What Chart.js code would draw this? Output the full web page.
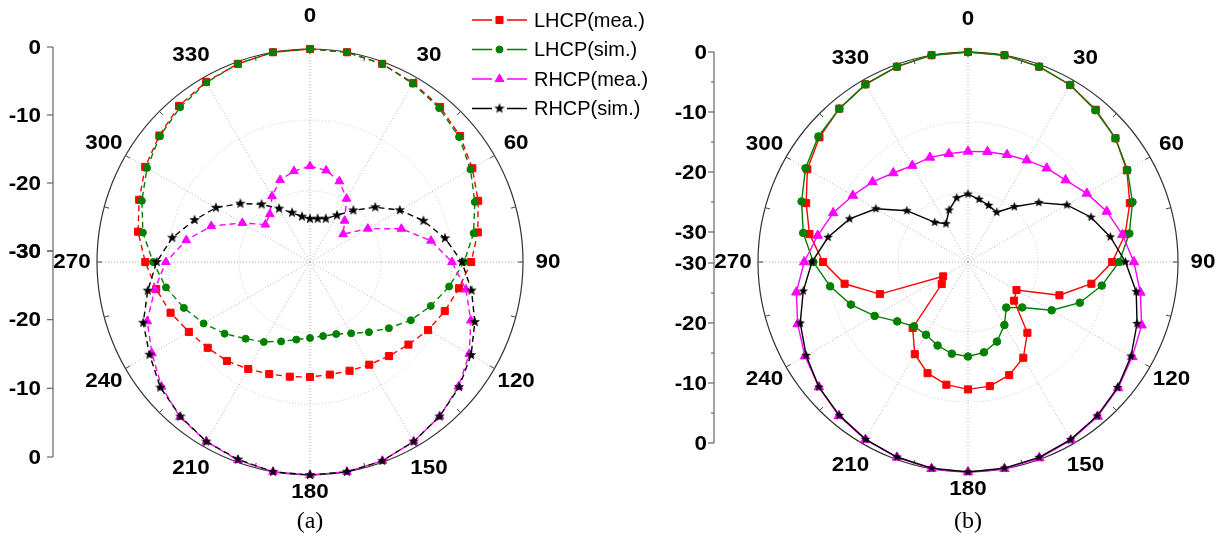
<!DOCTYPE html>
<html>
<head>
<meta charset="utf-8">
<script src="https://cdn.jsdelivr.net/npm/chart.js@4/dist/chart.umd.min.js"></script>
<style>
html,body{margin:0;padding:0;background:#fff;}
#wrap{position:relative;width:1229px;height:545px;overflow:hidden;background:#fff;}
#wrap canvas{position:absolute;left:0;top:0;}
</style>
</head>
<body>
<div id="wrap">
<canvas id="ca" width="1229" height="545"></canvas>
<canvas id="cb" width="1229" height="545"></canvas>
</div>
<script>
// ---------------- DATA ----------------
const angles = ['0','10','20','30','40','50','60','70','80','90','100','110','120','130','140','150','160','170',
                '180','190','200','210','220','230','240','250','260','270','280','290','300','310','320','330','340','350'];
const angleTickLabels = ['0','30','60','90','120','150','180','210','240','270','300','330'];
const radialTickValues = [0, -10, -20, -30];
const seriesNames = ['LHCP(mea.)', 'LHCP(sim.)', 'RHCP(mea.)', 'RHCP(sim.)'];
const panelNames = ['(a)', '(b)'];

// panel (a)
const lhcpMeaA = [0,0,-0.3,-0.9,-1.5,-2.4,-3.6,-4.8,-6.0,-7.3,-8.7,-9.8,-10.8,-11.9,-12.7,-13.3,-13.7,-13.9,
                  -13.8,-13.6,-13.2,-12.6,-11.8,-11.2,-10.3,-9.1,-8.0,-6.8,-5.4,-4.4,-3.2,-2.3,-1.3,-0.7,-0.3,0];
const lhcpSimA = [0,0,-0.3,-1.0,-1.7,-2.6,-3.9,-5.3,-6.6,-8.3,-10.1,-11.9,-13.6,-15.5,-17.1,-18.4,-19.2,-19.4,
                  -19.3,-18.9,-18.1,-17.0,-15.9,-14.3,-12.7,-11.1,-9.4,-7.9,-6.1,-4.8,-3.5,-2.4,-1.55,-0.8,-0.3,0];
const rhcpMeaA = [-16.5,-16.9,-17.9,-19.7,-22.4,-23.9,-20.6,-16.3,-12.7,-10.0,-7.7,-5.9,-4.1,-2.7,-1.6,-0.8,-0.2,0,
                  0,0,-0.3,-0.8,-1.5,-2.7,-4.3,-5.6,-7.8,-9.7,-12.3,-15.2,-19.0,-21.8,-21.2,-19.3,-17.7,-17.0];
const rhcpSimA = [-23.9,-23.8,-23.5,-22.4,-20.5,-18.0,-15.4,-13.0,-10.7,-8.6,-6.9,-5.3,-3.8,-2.6,-1.6,-0.8,-0.2,0,
                  0,0,-0.4,-0.8,-1.6,-2.5,-3.9,-5.0,-6.8,-8.4,-10.3,-12.7,-14.7,-17.2,-19.4,-21.3,-22.6,-23.5];

// panel (b)
const lhcpMeaB = [0,0,-0.3,-0.8,-1.6,-2.5,-3.8,-5.4,-7.2,-9.4,-12.1,-16.1,-22.0,-21.4,-16.8,-14.2,-12.8,-12.0,
                  -11.8,-12.2,-13.1,-14.8,-17.7,-25.1,-25.9,-16.6,-12.1,-9.3,-7.0,-5.4,-3.5,-2.3,-1.4,-0.7,-0.3,0];
const lhcpSimB = [0,0,-0.3,-0.8,-1.7,-2.5,-3.7,-5.0,-6.6,-8.4,-10.6,-13.0,-16.2,-19.9,-21.5,-19.6,-17.9,-16.9,
                  -16.5,-16.7,-17.3,-18.0,-18.0,-16.8,-14.6,-12.2,-10.0,-7.9,-6.1,-4.7,-3.2,-2.1,-1.4,-0.7,-0.3,0];
const rhcpMeaB = [-14.2,-14.0,-13.7,-13.2,-12.5,-11.8,-10.4,-8.9,-7.6,-6.3,-5.0,-3.6,-2.9,-2.0,-1.2,-0.6,-0.2,0,
                  0,0,-0.3,-0.7,-1.3,-2.2,-3.1,-4.1,-5.1,-6.6,-8.2,-9.5,-11.0,-12.2,-13.4,-14.1,-14.1,-14.3];
const rhcpSimB = [-20.3,-20.9,-21.4,-21.8,-19.7,-16.8,-13.7,-11.3,-9.35,-7.5,-5.6,-4.3,-3.1,-2.1,-1.3,-0.7,-0.3,-0.1,
                  0,-0.1,-0.35,-0.75,-1.4,-2.2,-3.3,-4.5,-6.1,-7.7,-9.7,-12.0,-14.8,-18.6,-22.6,-23.7,-22.1,-20.7];

// ---------------- STYLE ----------------
const colors = ['#ff0000', '#008000', '#ff00ff', '#000000'];
const BOLD = 'bold 20px "Liberation Sans", Arial, sans-serif';

function starCanvas(outer, inner, color) {
  const s = Math.ceil(outer * 2 + 3);
  const c = document.createElement('canvas');
  c.width = s; c.height = s;
  const g = c.getContext('2d');
  g.fillStyle = color;
  g.beginPath();
  for (let k = 0; k < 10; k++) {
    const rr = k % 2 ? inner : outer;
    const a = -Math.PI / 2 + k * Math.PI / 5;
    const px = s / 2 + rr * Math.cos(a), py = s / 2 + rr * Math.sin(a);
    if (k) g.lineTo(px, py); else g.moveTo(px, py);
  }
  g.closePath();
  g.fill();
  return c;
}

function makeDatasets(values, dashed, sz) {
  const styles = ['rect', 'circle', 'triangle', starCanvas(sz.star, sz.star * 0.42, '#000')];
  const radii = [sz.rect, sz.circle, sz.tri, sz.star];
  const orders = [4, 3, 2, 1];
  return values.map((v, i) => ({
    label: seriesNames[i],
    data: v,
    borderColor: colors[i],
    backgroundColor: colors[i],
    borderWidth: 1.4,
    borderDash: dashed ? [6, 4] : [],
    fill: false,
    tension: 0,
    pointStyle: styles[i],
    pointRadius: radii[i],
    pointBackgroundColor: colors[i],
    pointBorderColor: colors[i],
    pointBorderWidth: 1,
    clip: false,
    order: orders[i]
  }));
}

function stretchText(ctx, text, x, y, sx, align) {
  ctx.save();
  ctx.translate(x, y);
  ctx.scale(sx, 1);
  ctx.textAlign = align;
  ctx.fillText(text, 0, 0);
  ctx.restore();
}

const polarFrame = {
  id: 'polarFrame',
  beforeDatasetsDraw(chart, args, o) {
    const s = chart.scales.r, ctx = chart.ctx;
    const cx = s.xCenter, cy = s.yCenter, R = s.drawingArea;
    ctx.save();
    // inner grid circles
    ctx.setLineDash([1, 2]);
    ctx.strokeStyle = '#c8c8c8';
    ctx.lineWidth = 1;
    radialTickValues.forEach(v => {
      if (v === 0 || v === s.min) return;
      const r = s.getDistanceFromCenterForValue(v);
      ctx.beginPath(); ctx.arc(cx, cy, r, 0, Math.PI * 2); ctx.stroke();
    });
    // angle lines every 30 deg
    ctx.strokeStyle = '#b0b0b0';
    angles.forEach((a, i) => {
      if (+a % 30 !== 0) return;
      const p = s.getPointPosition(i, R);
      ctx.beginPath(); ctx.moveTo(cx, cy); ctx.lineTo(p.x, p.y); ctx.stroke();
    });
    ctx.setLineDash([]);
    // outer circle
    ctx.strokeStyle = '#333';
    ctx.lineWidth = 1.2;
    ctx.beginPath(); ctx.arc(cx, cy, R, 0, Math.PI * 2); ctx.stroke();
    // small inward ticks every 15 deg
    ctx.lineWidth = 1;
    ctx.strokeStyle = '#444';
    for (let d = 0; d < 360; d += 15) {
      const t = d * Math.PI / 180 - Math.PI / 2;
      ctx.beginPath();
      ctx.moveTo(cx + Math.cos(t) * R, cy + Math.sin(t) * R);
      ctx.lineTo(cx + Math.cos(t) * (R - 5), cy + Math.sin(t) * (R - 5));
      ctx.stroke();
    }
    ctx.restore();
  },
  afterDraw(chart, args, o) {
    const s = chart.scales.r, ctx = chart.ctx;
    const cx = s.xCenter, cy = s.yCenter, R = s.drawingArea;
    ctx.save();
    ctx.fillStyle = '#000';
    ctx.font = BOLD;
    ctx.textBaseline = 'middle';
    // angular labels
    angleTickLabels.forEach(lbl => {
      const i = angles.indexOf(lbl);
      const p = s.getPointPosition(i, R + 25);
      let y = p.y;
      if (lbl === '0' || lbl === '180') y -= 8;
      stretchText(ctx, lbl, p.x, y, 1.12, 'center');
    });
    // left radial axis
    const ax = o.axis;
    ctx.strokeStyle = '#666';
    ctx.lineWidth = 1.2;
    ctx.beginPath(); ctx.moveTo(ax.x, ax.top0); ctx.lineTo(ax.x, ax.bot0); ctx.stroke();
    const yTop = v => ax.top0 + (ax.top30 - ax.top0) * (-v / 30);
    const yBot = v => ax.bot0 - (ax.bot0 - ax.bot30) * (-v / 30);
    radialTickValues.forEach(v => {
      [yTop(v), yBot(v)].forEach(y => {
        ctx.beginPath(); ctx.moveTo(ax.x - 6, y); ctx.lineTo(ax.x, y); ctx.stroke();
        stretchText(ctx, String(v), ax.x - ax.gap, y + 1, 1.12, 'right');
      });
    });
    if (ax.minor) {
      [-5, -15, -25].forEach(v => {
        [yTop(v), yBot(v)].forEach(y => {
          ctx.beginPath(); ctx.moveTo(ax.x - 3, y); ctx.lineTo(ax.x, y); ctx.stroke();
        });
      });
    }
    // panel caption
    ctx.font = '24px "Liberation Serif", "Times New Roman", serif';
    ctx.textAlign = 'center';
    ctx.fillText(o.caption, cx, 522);
    // legend
    if (o.legend) {
      const lg = o.legend;
      chart.data.datasets.forEach((ds, k) => {
        const y = lg.y0 + k * lg.dy;
        ctx.strokeStyle = ds.borderColor;
        ctx.lineWidth = 1.5;
        ctx.setLineDash([]);
        ctx.beginPath();
        ctx.moveTo(lg.x0, y); ctx.lineTo(lg.x0 + 20, y);
        ctx.moveTo(lg.x0 + 35, y); ctx.lineTo(lg.x0 + 55, y);
        ctx.stroke();
        ctx.fillStyle = ds.pointBackgroundColor;
        ctx.strokeStyle = ds.pointBorderColor;
        ctx.lineWidth = 1;
        Chart.helpers.drawPoint(ctx, {pointStyle: ds.pointStyle, radius: ds.pointRadius, rotation: 0, borderWidth: 1},
                                lg.x0 + 27.5, y);
        ctx.fillStyle = '#000';
        ctx.font = '21px "Liberation Sans", Arial, sans-serif';
        ctx.textBaseline = 'middle';
        stretchText(ctx, ds.label, lg.x0 + 62, y + 1, 0.95, 'left');
      });
    }
    ctx.restore();
  }
};

function makeChart(id, values, dashed, sz, pad, axis, caption, legend) {
  return new Chart(document.getElementById(id), {
    type: 'radar',
    data: { labels: angles, datasets: makeDatasets(values, dashed, sz) },
    options: {
      responsive: false,
      animation: false,
      events: [],
      layout: { padding: pad },
      plugins: {
        legend: { display: false },
        tooltip: { enabled: false },
        polarFrame: { axis: axis, caption: caption, legend: legend }
      },
      scales: {
        r: {
          min: -30, max: 0,
          ticks: { display: false, stepSize: 10 },
          grid: { display: false },
          angleLines: { display: false },
          pointLabels: { display: false }
        }
      }
    },
    plugins: [polarFrame]
  });
}

makeChart('ca', [lhcpMeaA, lhcpSimA, rhcpMeaA, rhcpSimA], true,
  { rect: 5, circle: 3.5, tri: 5, star: 5.5 },
  { left: 97, right: 706, top: 49, bottom: 70 },
  { x: 53, top0: 47, top30: 251, bot30: 251, bot0: 457, gap: 12, minor: false },
  panelNames[0],
  { x0: 472, y0: 20, dy: 29.5 });

makeChart('cb', [lhcpMeaB, lhcpSimB, rhcpMeaB, rhcpSimB], false,
  { rect: 5, circle: 3.8, tri: 5.5, star: 5 },
  { left: 758, right: 51, top: 52, bottom: 73 },
  { x: 714, top0: 52, top30: 232, bot30: 263, bot0: 443, gap: 7, minor: true },
  panelNames[1],
  null);
</script>
</body>
</html>
